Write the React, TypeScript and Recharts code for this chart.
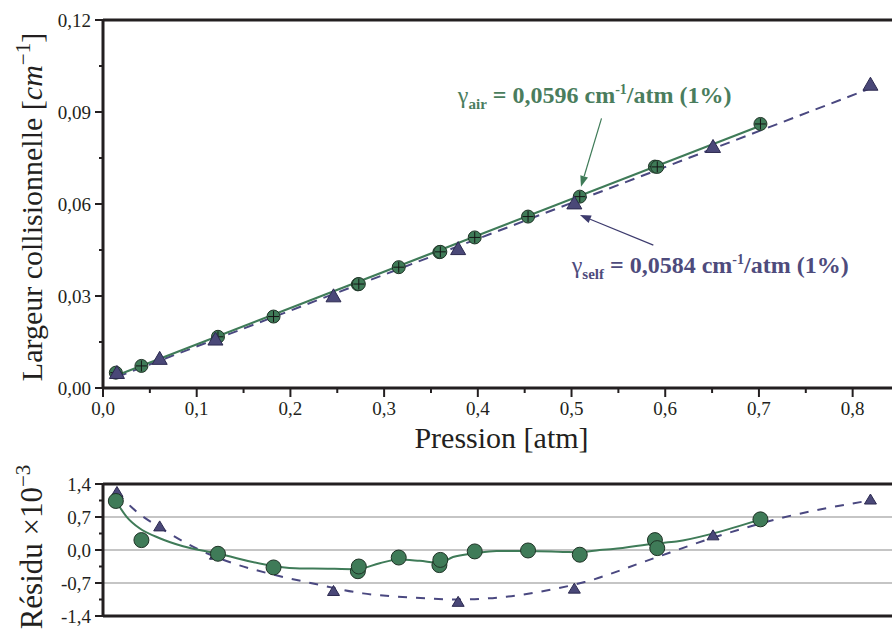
import {
  ComposedChart,
  Scatter,
  Line,
  XAxis,
  YAxis,
  ReferenceLine,
  ReferenceDot,
} from "recharts";

// air-broadened widths (green circles)
const airPressure = [0.0137, 0.041, 0.1227, 0.182, 0.272, 0.273, 0.3156, 0.359, 0.36, 0.3967, 0.4536, 0.5088, 0.589, 0.5915, 0.7016];
const airWidth = [0.005, 0.0072, 0.0167, 0.0233, 0.0338, 0.0339, 0.0394, 0.0443, 0.0444, 0.0491, 0.0559, 0.0624, 0.0722, 0.0721, 0.0861];
const airResidual = [1.04, 0.21, -0.08, -0.37, -0.45, -0.35, -0.16, -0.32, -0.21, -0.03, -0.01, -0.1, 0.21, 0.04, 0.65];

// self-broadened widths (purple triangles)
const selfPressure = [0.0149, 0.0605, 0.12, 0.246, 0.379, 0.503, 0.651, 0.819];
const selfWidth = [0.0048, 0.0094, 0.0157, 0.0298, 0.0452, 0.0601, 0.0785, 0.0988];
const selfResidual = [1.22, 0.49, -0.11, -0.88, -1.11, -0.83, 0.3, 1.06];

// linear fits
const airFitPressure = [0.0137, 0.7016];
const airFitWidth = [0.004, 0.0855];
const selfFitPressure = [0.015, 0.819];
const selfFitWidth = [0.0036, 0.0977];

// smoothed residual curves
const airSmoothPressure = [0.0137, 0.025, 0.039, 0.0605, 0.0854, 0.121, 0.182, 0.21, 0.2241, 0.2704, 0.2953, 0.3156, 0.338, 0.3594, 0.3735, 0.3967, 0.4199, 0.4536, 0.4909, 0.5088, 0.53, 0.5443, 0.5898, 0.612, 0.651, 0.7016];
const airSmoothResidual = [1.04, 0.71, 0.46, 0.25, 0.08, -0.07, -0.34, -0.39, -0.39, -0.41, -0.28, -0.2, -0.23, -0.27, -0.15, -0.07, -0.02, -0.02, -0.04, -0.05, 0.0, 0.02, 0.14, 0.18, 0.35, 0.65];
const selfSmoothPressure = [0.0149, 0.032, 0.0677, 0.1032, 0.1387, 0.1814, 0.2241, 0.2775, 0.3308, 0.3789, 0.4305, 0.4732, 0.514, 0.58, 0.651, 0.722, 0.818];
const selfSmoothResidual = [1.22, 0.88, 0.39, 0.0, -0.28, -0.52, -0.71, -0.92, -1.01, -1.05, -0.99, -0.86, -0.68, -0.23, 0.26, 0.67, 1.05];

// ticks
const xTicks = [0, 0.05, 0.1, 0.15, 0.2, 0.25, 0.3, 0.35, 0.4, 0.45, 0.5, 0.55, 0.6, 0.65, 0.7, 0.75, 0.8];
const widthTicks = [0, 0.015, 0.03, 0.045, 0.06, 0.075, 0.09, 0.105, 0.12];
const residualTicks = [-1.4, -1.05, -0.7, -0.35, 0, 0.35, 0.7, 1.05, 1.4];
const residualGrid = [0.7, 0, -0.7];

const X_MAX = 0.842;
const AXIS = "#231f20";
const SERIF = "'Liberation Serif', 'Times New Roman', serif";
const GREEN = "#3f7b58";
const PURPLE = "#4a4880";

const zip = (xs: number[], ys: number[]) => xs.map((x, i) => ({ x, y: ys[i] }));

const isMajor = (v: number, step: number) => Math.abs(v / step - Math.round(v / step)) < 1e-6;
const fmt = (v: number, d: number) => (v < 0 ? "-" : "") + Math.abs(v).toFixed(d).replace(".", ",");

function makeYTick(step: number, digits: number) {
  return (props: any) => {
    const { x, y, payload } = props;
    const major = isMajor(payload.value, step);
    return (
      <g>
        <line x1={x} x2={x - (major ? 8 : 4)} y1={y} y2={y} stroke={AXIS} strokeWidth={2} />
        {major && (
          <text x={x - 12} y={y + 7} textAnchor="end" fontSize={19} fontFamily={SERIF} fill={AXIS}>
            {fmt(payload.value, digits)}
          </text>
        )}
      </g>
    );
  };
}

function XTick(props: any) {
  const { x, y, payload } = props;
  const major = isMajor(payload.value, 0.1);
  return (
    <g>
      <line x1={x} x2={x} y1={y} y2={y + (major ? 9 : 5)} stroke={AXIS} strokeWidth={2} />
      {major && (
        <text x={x} y={y + 27} textAnchor="middle" fontSize={19} fontFamily={SERIF} fill={AXIS}>
          {fmt(payload.value, 1)}
        </text>
      )}
    </g>
  );
}

function Circle(r: number, cross: boolean) {
  return (props: any) => {
    const { cx, cy } = props;
    return (
      <g>
        <circle cx={cx} cy={cy} r={r} fill={GREEN} stroke="#1f3326" strokeWidth={1} />
        {cross && (
          <g stroke="#151515" strokeWidth={1}>
            <line x1={cx - r + 1} x2={cx + r - 1} y1={cy} y2={cy} />
            <line x1={cx} x2={cx} y1={cy - r + 1} y2={cy + r - 1} />
          </g>
        )}
      </g>
    );
  };
}

function Triangle(w: number, h: number) {
  return (props: any) => {
    const { cx, cy } = props;
    const pts = `${cx},${cy - h * 0.6} ${cx - w / 2},${cy + h * 0.4} ${cx + w / 2},${cy + h * 0.4}`;
    return <polygon points={pts} fill="#4a4878" stroke="#2c2a50" strokeWidth={1} />;
  };
}

function arrowShape(color: string) {
  return (props: any) => {
    const { x1, y1, x2, y2 } = props;
    const a = Math.atan2(y2 - y1, x2 - x1);
    const L = 11;
    const W = 4;
    const bx = x2 - L * Math.cos(a);
    const by = y2 - L * Math.sin(a);
    const px = -Math.sin(a) * W;
    const py = Math.cos(a) * W;
    return (
      <g>
        <line x1={x1} y1={y1} x2={bx} y2={by} stroke={color} strokeWidth={1.2} />
        <polygon points={`${x2},${y2} ${bx + px},${by + py} ${bx - px},${by - py}`} fill={color} />
      </g>
    );
  };
}

function gammaLabel(sub: string, value: string, color: string) {
  return (props: any) => {
    const { cx, cy } = props;
    return (
      <text x={cx} y={cy} fontFamily={SERIF} fontSize={24} fontWeight="bold" fill={color}>
        <tspan fontWeight="normal">γ</tspan>
        <tspan fontSize={15} dy={6}>{sub}</tspan>
        <tspan dy={-6}>{` = ${value} cm`}</tspan>
        <tspan fontSize={14} dy={-9}>-1</tspan>
        <tspan dy={9}>/atm (1%)</tspan>
      </text>
    );
  };
}

const airPoints = zip(airPressure, airWidth);
const selfPoints = zip(selfPressure, selfWidth);
const airFit = zip(airFitPressure, airFitWidth);
const selfFit = zip(selfFitPressure, selfFitWidth);
const airRes = zip(airPressure, airResidual);
const selfRes = zip(selfPressure, selfResidual);
const airSmooth = zip(airSmoothPressure, airSmoothResidual);
const selfSmooth = zip(selfSmoothPressure, selfSmoothResidual);

export default function App() {
  return (
    <div style={{ position: "absolute", left: 0, top: 0, width: 892, height: 632, background: "#fff" }}>
      <div style={{ position: "absolute", left: 0, top: 0 }}>
        <ComposedChart width={892} height={470} margin={{ top: 20, right: 0, bottom: 0, left: 0 }}>
          <XAxis
            type="number"
            dataKey="x"
            domain={[0, X_MAX]}
            ticks={xTicks}
            interval={0}
            allowDataOverflow
            height={82}
            tickSize={0}
            tickMargin={0}
            tickLine={false}
            axisLine={{ stroke: AXIS, strokeWidth: 3 }}
            tick={XTick}
            label={{
              content: (p: any) => {
                const vb = p.viewBox;
                return (
                  <text x={vb.x + vb.width / 2 + 4} y={vb.y + 60} textAnchor="middle" fontSize={30} fontFamily={SERIF} fill={AXIS}>
                    Pression [atm]
                  </text>
                );
              },
            }}
          />
          <YAxis
            type="number"
            dataKey="y"
            domain={[0, 0.12]}
            ticks={widthTicks}
            interval={0}
            allowDataOverflow
            width={103}
            tickSize={0}
            tickMargin={0}
            tickLine={false}
            axisLine={{ stroke: AXIS, strokeWidth: 3 }}
            tick={makeYTick(0.03, 2)}
            label={{
              content: (p: any) => {
                const vb = p.viewBox;
                const cx = vb.x + 42;
                const cy = vb.y + vb.height / 2 + 3;
                return (
                  <text x={cx} y={cy} transform={`rotate(-90, ${cx}, ${cy})`} textAnchor="middle" fontSize={30} fontFamily={SERIF} fill={AXIS}>
                    Largeur collisionnelle [<tspan fontStyle="italic">cm</tspan>
                    <tspan fontSize={21} dy={-12}>−1</tspan>
                    <tspan dy={12}>]</tspan>
                  </text>
                );
              },
            }}
          />
          <ReferenceLine y={0.12} stroke={AXIS} strokeWidth={3} ifOverflow="visible" />
          <Line data={selfFit} dataKey="y" type="linear" stroke={PURPLE} strokeWidth={2} strokeDasharray="10 7" dot={false} activeDot={false} isAnimationActive={false} />
          <Line data={airFit} dataKey="y" type="linear" stroke={GREEN} strokeWidth={2.2} dot={false} activeDot={false} isAnimationActive={false} />
          <Scatter data={airPoints} dataKey="y" shape={Circle(6.5, true)} isAnimationActive={false} />
          <Scatter data={selfPoints} dataKey="y" shape={Triangle(15, 13)} isAnimationActive={false} />
          <ReferenceLine segment={[{ x: 0.532, y: 0.0879 }, { x: 0.5101, y: 0.0656 }]} shape={arrowShape("#3f7b58")} ifOverflow="visible" />
          <ReferenceLine segment={[{ x: 0.5873, y: 0.0466 }, { x: 0.509, y: 0.0564 }]} shape={arrowShape("#3d3b6e")} ifOverflow="visible" />
          <ReferenceDot x={0.3787} y={0.0929} r={1} shape={gammaLabel("air", "0,0596", "#4a7d5d")} ifOverflow="visible" />
          <ReferenceDot x={0.5002} y={0.0375} r={1} shape={gammaLabel("self", "0,0584", "#4e4b7c")} ifOverflow="visible" />
        </ComposedChart>
      </div>
      <div style={{ position: "absolute", left: 0, top: 448 }}>
        <ComposedChart width={892} height={184} margin={{ top: 36, right: 0, bottom: 0, left: 0 }}>
          <XAxis
            type="number"
            dataKey="x"
            domain={[0, X_MAX]}
            allowDataOverflow
            height={16}
            tick={false}
            tickLine={false}
            axisLine={{ stroke: AXIS, strokeWidth: 3 }}
          />
          <YAxis
            type="number"
            dataKey="y"
            domain={[-1.4, 1.4]}
            ticks={residualTicks}
            interval={0}
            allowDataOverflow
            width={103}
            tickSize={0}
            tickMargin={0}
            tickLine={false}
            axisLine={{ stroke: AXIS, strokeWidth: 3 }}
            tick={makeYTick(0.7, 1)}
            label={{
              content: (p: any) => {
                const vb = p.viewBox;
                const cx = vb.x + 42;
                const cy = vb.y + vb.height / 2 - 3;
                return (
                  <text x={cx} y={cy} transform={`rotate(-90, ${cx}, ${cy})`} textAnchor="middle" fontSize={31} fontFamily={SERIF} fill={AXIS}>
                    Résidu ×10
                    <tspan fontSize={21} dy={-12}>−3</tspan>
                  </text>
                );
              },
            }}
          />
          {residualGrid.map((g) => (
            <ReferenceLine key={g} y={g} stroke="#8c8c8c" strokeWidth={1.2} />
          ))}
          <ReferenceLine y={1.4} stroke={AXIS} strokeWidth={3} ifOverflow="visible" />
          <Line data={selfSmooth} dataKey="y" type="monotone" stroke={PURPLE} strokeWidth={2} strokeDasharray="9 9" dot={false} activeDot={false} isAnimationActive={false} />
          <Line data={airSmooth} dataKey="y" type="monotone" stroke={GREEN} strokeWidth={2} dot={false} activeDot={false} isAnimationActive={false} />
          <Scatter data={selfRes} dataKey="y" shape={Triangle(12, 10)} isAnimationActive={false} />
          <Scatter data={airRes} dataKey="y" shape={Circle(7.5, false)} isAnimationActive={false} />
        </ComposedChart>
      </div>
    </div>
  );
}
